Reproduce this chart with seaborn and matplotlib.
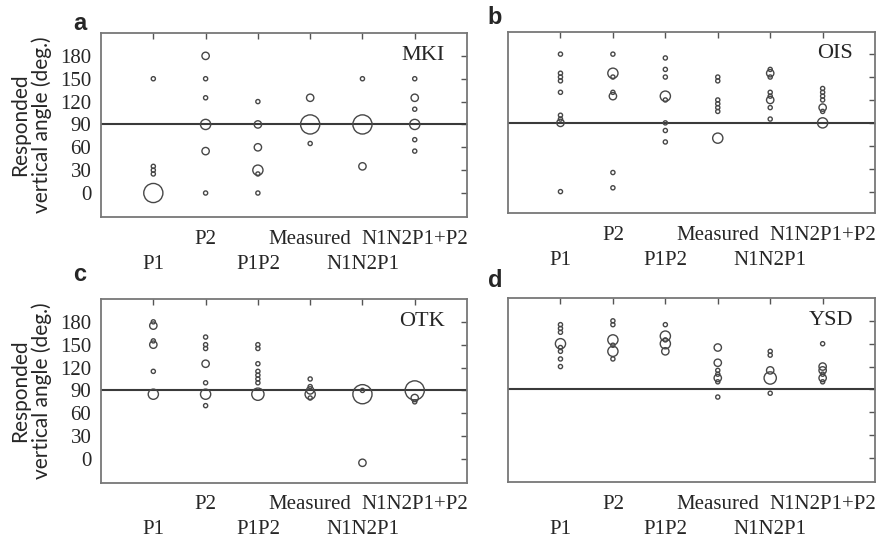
import numpy as np
import pandas as pd
import matplotlib
matplotlib.use("Agg")
import matplotlib.pyplot as plt
import seaborn as sns

# ---------------- data ----------------
categories = ["P1", "P2", "P1P2", "Measured", "N1N2P1", "N1N2P1+P2"]
subjects = ["MKI", "OIS", "OTK", "YSD"]
panel_letters = ["a", "b", "c", "d"]
yticks = [0, 30, 60, 90, 120, 150, 180]
reference_angle = 90

# MKI
mki_cat = ["P1"] * 5 + ["P2"] * 6 + ["P1P2"] * 6 + ["Measured"] * 3 + ["N1N2P1"] * 3 + ["N1N2P1+P2"] * 6
mki_angle = [150, 35, 30, 25, 0,
             180, 150, 125, 90, 55, 0,
             120, 90, 60, 30, 25, 0,
             125, 90, 65,
             150, 90, 35,
             150, 125, 110, 90, 70, 55]
mki_n = [1, 1, 1, 1, 6,
         2, 1, 1, 3, 2, 1,
         1, 2, 2, 3, 1, 1,
         2, 6, 1,
         1, 6, 2,
         1, 2, 1, 3, 1, 1]

# OIS
ois_cat = ["P1"] * 9 + ["P2"] * 7 + ["P1P2"] * 8 + ["Measured"] * 7 + ["N1N2P1"] * 8 + ["N1N2P1+P2"] * 7
ois_angle = [180, 155, 150, 145, 130, 100, 95, 90, 0,
             180, 155, 150, 130, 125, 25, 5,
             175, 160, 150, 125, 120, 90, 80, 65,
             150, 145, 120, 115, 110, 105, 70,
             160, 155, 150, 130, 125, 120, 110, 95,
             135, 130, 125, 120, 110, 105, 90]
ois_n = [1, 1, 1, 1, 1, 1, 1, 2, 1,
         1, 3, 1, 1, 2, 1, 1,
         1, 1, 1, 3, 1, 1, 1, 1,
         1, 1, 1, 1, 1, 1, 3,
         1, 2, 1, 1, 1, 2, 1, 1,
         1, 1, 1, 1, 2, 1, 3]

# OTK
otk_cat = ["P1"] * 6 + ["P2"] * 7 + ["P1P2"] * 8 + ["Measured"] * 5 + ["N1N2P1"] * 3 + ["N1N2P1+P2"] * 3
otk_angle = [180, 175, 155, 150, 115, 85,
             160, 150, 145, 125, 100, 85, 70,
             150, 145, 125, 115, 110, 105, 100, 85,
             105, 95, 90, 85, 80,
             90, 85, -5,
             90, 80, 75]
otk_n = [1, 2, 1, 2, 1, 3,
         1, 1, 1, 2, 1, 3, 1,
         1, 1, 1, 1, 1, 1, 1, 4,
         1, 1, 2, 3, 1,
         1, 6, 2,
         6, 2, 1]

# YSD
ysd_cat = ["P1"] * 8 + ["P2"] * 6 + ["P1P2"] * 5 + ["Measured"] * 7 + ["N1N2P1"] * 5 + ["N1N2P1+P2"] * 6
ysd_angle = [175, 170, 165, 150, 145, 140, 130, 120,
             180, 175, 155, 148, 140, 130,
             175, 160, 155, 150, 140,
             145, 125, 115, 110, 105, 100, 80,
             140, 135, 115, 105, 85,
             150, 120, 115, 110, 105, 100]
ysd_n = [1, 1, 1, 3, 1, 1, 1, 1,
         1, 1, 3, 1, 3, 1,
         1, 3, 1, 3, 2,
         2, 2, 1, 1, 2, 1, 1,
         1, 1, 2, 4, 1,
         1, 2, 2, 1, 2, 1]

panel_data = [(mki_cat, mki_angle, mki_n), (ois_cat, ois_angle, ois_n),
              (otk_cat, otk_angle, otk_n), (ysd_cat, ysd_angle, ysd_n)]

# ---------------- style ----------------
sns.set_theme(style="white")
plt.rcParams["font.family"] = ["Liberation Serif", "DejaVu Serif"]

size_map = {1: 9, 2: 28, 3: 54, 4: 78, 6: 190}
edge = "#474747"

fig = plt.figure(figsize=(8.84, 5.42), dpi=100)
rects = [[0.1143, 0.5996, 0.414, 0.3395],
         [0.5747, 0.6070, 0.4152, 0.3340],
         [0.1143, 0.1089, 0.414, 0.3395],
         [0.5747, 0.1107, 0.4152, 0.3395]]
ylims = [(-31.5, 210), (-28, 209), (-31.5, 210), (-31.5, 210)]

positions = list(range(1, len(categories) + 1))
upper_pos = positions[1::2]
lower_pos = positions[0::2]
upper_lab = categories[1::2]
lower_lab = categories[0::2]

for i, (cats, ang, cnt) in enumerate(panel_data):
    ax = fig.add_axes(rects[i])
    df = pd.DataFrame({"cat": cats, "angle": ang, "n": cnt})
    df["pos"] = df["cat"].map({c: k + 1 for k, c in enumerate(categories)})
    ax.axhline(reference_angle, color="#3a3a3a", lw=1.5, zorder=2)
    sns.scatterplot(data=df, x="pos", y="angle", size="n", sizes=size_map,
                    legend=False, facecolor="none", edgecolor=edge,
                    linewidth=1.0, ax=ax, zorder=3)
    ax.set_xlim(0, 7)
    ax.set_ylim(*ylims[i])
    ax.set_xticks(upper_pos)
    ax.set_xticklabels(upper_lab, fontsize=15)
    ax.set_xticks(lower_pos, minor=True)
    ax.set_xticklabels(lower_lab, minor=True, fontsize=15)
    ax.set_yticks(yticks)
    ax.set_xlabel("")
    if i % 2 == 0:
        ax.set_yticklabels([str(v) for v in yticks], fontsize=15)
        ax.set_ylabel("Responded\nvertical angle (deg.)", family="Lato",
                      fontsize=15, labelpad=6, linespacing=1.05)
    else:
        ax.set_yticklabels([])
        ax.set_ylabel("")
    ax.tick_params(which="both", direction="in", top=True, right=True,
                   length=4, width=1, color="#555555")
    ax.tick_params(axis="y", pad=7)
    ax.tick_params(axis="x", which="major", pad=9)
    ax.tick_params(axis="x", which="minor", pad=27)
    for sp in ax.spines.values():
        sp.set_color("#777777")
        sp.set_linewidth(1.3)
    ax.text(0.94, 0.88, subjects[i], transform=ax.transAxes, ha="right",
            va="center", fontsize=16)

letter_pos = [(0.0826, 0.956), (0.552, 0.968), (0.0826, 0.493), (0.552, 0.483)]
for (x, y), l in zip(letter_pos, panel_letters):
    fig.text(x, y, l, fontsize=17, fontweight="bold", family="Liberation Sans",
             ha="left", va="center")

fig.savefig("out.png", dpi=100)
